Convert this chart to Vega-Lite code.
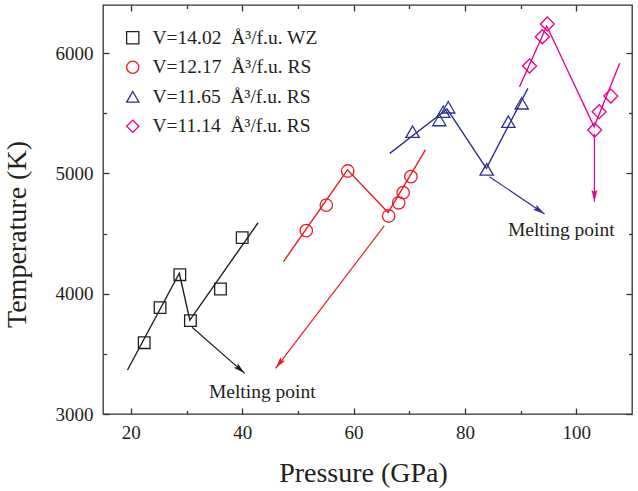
{
  "$schema": "https://vega.github.io/schema/vega-lite/v6.json",
  "width": 529,
  "height": 409,
  "autosize": {"type": "none"},
  "padding": {"left": 103, "top": 5, "right": 6, "bottom": 77},
  "background": "white",
  "datasets": {
    "pts": [
      {"P": 22.4, "T": 3593, "s": "V=14.02 Å³/f.u. WZ", "k": "WZ 14.02"},
      {"P": 25.25, "T": 3884, "s": "V=14.02 Å³/f.u. WZ", "k": "WZ 14.02"},
      {"P": 28.8, "T": 4158, "s": "V=14.02 Å³/f.u. WZ", "k": "WZ 14.02"},
      {"P": 30.7, "T": 3776, "s": "V=14.02 Å³/f.u. WZ", "k": "WZ 14.02"},
      {"P": 36.1, "T": 4039, "s": "V=14.02 Å³/f.u. WZ", "k": "WZ 14.02"},
      {"P": 40.0, "T": 4466, "s": "V=14.02 Å³/f.u. WZ", "k": "WZ 14.02"},
      {"P": 51.5, "T": 4524, "s": "V=12.17 Å³/f.u. RS", "k": "RS 12.17"},
      {"P": 55.1, "T": 4737, "s": "V=12.17 Å³/f.u. RS", "k": "RS 12.17"},
      {"P": 58.95, "T": 5020, "s": "V=12.17 Å³/f.u. RS", "k": "RS 12.17"},
      {"P": 66.3, "T": 4646, "s": "V=12.17 Å³/f.u. RS", "k": "RS 12.17"},
      {"P": 68.1, "T": 4756, "s": "V=12.17 Å³/f.u. RS", "k": "RS 12.17"},
      {"P": 68.9, "T": 4840, "s": "V=12.17 Å³/f.u. RS", "k": "RS 12.17"},
      {"P": 70.3, "T": 4973, "s": "V=12.17 Å³/f.u. RS", "k": "RS 12.17"},
      {"P": 70.6, "T": 5347, "s": "V=11.65 Å³/f.u. RS", "k": "RS 11.65"},
      {"P": 75.4, "T": 5444, "s": "V=11.65 Å³/f.u. RS", "k": "RS 11.65"},
      {"P": 76.1, "T": 5513, "s": "V=11.65 Å³/f.u. RS", "k": "RS 11.65"},
      {"P": 77.0, "T": 5550, "s": "V=11.65 Å³/f.u. RS", "k": "RS 11.65"},
      {"P": 83.9, "T": 5034, "s": "V=11.65 Å³/f.u. RS", "k": "RS 11.65"},
      {"P": 87.8, "T": 5430, "s": "V=11.65 Å³/f.u. RS", "k": "RS 11.65"},
      {"P": 90.2, "T": 5583, "s": "V=11.65 Å³/f.u. RS", "k": "RS 11.65"},
      {"P": 91.6, "T": 5893, "s": "V=11.14 Å³/f.u. RS", "k": "RS 11.14"},
      {"P": 93.9, "T": 6136, "s": "V=11.14 Å³/f.u. RS", "k": "RS 11.14"},
      {"P": 94.8, "T": 6242, "s": "V=11.14 Å³/f.u. RS", "k": "RS 11.14"},
      {"P": 103.3, "T": 5361, "s": "V=11.14 Å³/f.u. RS", "k": "RS 11.14"},
      {"P": 104.1, "T": 5513, "s": "V=11.14 Å³/f.u. RS", "k": "RS 11.14"},
      {"P": 106.2, "T": 5643, "s": "V=11.14 Å³/f.u. RS", "k": "RS 11.14"}
    ],
    "lines": [
      {"P": 19.4, "T": 3366, "k": "WZ 14.02", "o": 1},
      {"P": 28.7, "T": 4170, "k": "WZ 14.02", "o": 2},
      {"P": 30.6, "T": 3781, "k": "WZ 14.02", "o": 3},
      {"P": 42.85, "T": 4590, "k": "WZ 14.02", "o": 4},
      {"P": 47.4, "T": 4266, "k": "RS 12.17", "o": 1},
      {"P": 58.9, "T": 5030, "k": "RS 12.17", "o": 2},
      {"P": 66.2, "T": 4675, "k": "RS 12.17", "o": 3},
      {"P": 72.9, "T": 5195, "k": "RS 12.17", "o": 4},
      {"P": 66.5, "T": 5167, "k": "RS 11.65", "o": 1},
      {"P": 76.8, "T": 5535, "k": "RS 11.65", "o": 2},
      {"P": 83.85, "T": 5042, "k": "RS 11.65", "o": 3},
      {"P": 91.3, "T": 5707, "k": "RS 11.65", "o": 4},
      {"P": 89.8, "T": 5721, "k": "RS 11.14", "o": 1},
      {"P": 94.7, "T": 6225, "k": "RS 11.14", "o": 2},
      {"P": 103.2, "T": 5388, "k": "RS 11.14", "o": 3},
      {"P": 107.8, "T": 5915, "k": "RS 11.14", "o": 4}
    ],
    "arrows": [
      {"P": 31.0, "T": 3721, "P2": 40.45, "T2": 3338, "k": "WZ 14.02"},
      {"P": 65.5, "T": 4563, "P2": 46.0, "T2": 3380, "k": "RS 12.17"},
      {"P": 84.4, "T": 4972, "P2": 94.3, "T2": 4663, "k": "RS 11.65"},
      {"P": 103.25, "T": 5330, "P2": 103.25, "T2": 4765, "k": "RS 11.14"}
    ],
    "notes": [
      {"P": 43.6, "T": 3179, "label": "Melting point"},
      {"P": 97.3, "T": 4530, "label": "Melting point"}
    ]
  },
  "layer": [
    {
      "data": {"name": "lines"},
      "mark": {"type": "line", "strokeWidth": 1.4},
      "encoding": {
        "x": {"field": "P", "type": "quantitative", "scale": {"domain": [15, 110], "nice": false, "zero": false},
              "axis": {"orient": "bottom", "values": [30, 50, 70, 90], "offset": -3.5, "tickSize": 3.5, "labels": false, "title": null}},
        "y": {"field": "T", "type": "quantitative", "scale": {"domain": [3000, 6400], "nice": false, "zero": false},
              "axis": {"orient": "left", "values": [3500, 4500, 5500], "offset": -3.5, "tickSize": 3.5, "labels": false, "title": null}},
        "stroke": {"field": "k", "type": "nominal",
                   "scale": {"domain": ["WZ 14.02", "RS 12.17", "RS 11.65", "RS 11.14"],
                             "range": ["#231F20", "#ED1C24", "#2E3192", "#EC008C"]},
                   "legend": null},
        "order": {"field": "o", "type": "quantitative"}
      }
    },
    {
      "data": {"name": "arrows"},
      "mark": {"type": "rule", "strokeWidth": 1.2},
      "encoding": {
        "x": {"field": "P", "type": "quantitative",
              "axis": {"orient": "top", "values": [20, 40, 60, 80, 100], "offset": -6, "tickSize": 6, "labels": false, "title": null}},
        "y": {"field": "T", "type": "quantitative",
              "axis": {"orient": "right", "values": [3000, 4000, 5000, 6000], "offset": -6, "tickSize": 6, "labels": false, "title": null}},
        "x2": {"field": "P2"},
        "y2": {"field": "T2"},
        "stroke": {"field": "k", "type": "nominal", "legend": null}
      }
    },
    {
      "data": {"name": "notes"},
      "mark": {"type": "text", "font": "Liberation Serif", "fontSize": 19.5, "color": "#231F20", "align": "center", "baseline": "middle"},
      "encoding": {
        "x": {"field": "P", "type": "quantitative",
              "axis": {"orient": "top", "values": [30, 50, 70, 90], "offset": -3.5, "tickSize": 3.5, "labels": false, "title": null}},
        "y": {"field": "T", "type": "quantitative",
              "axis": {"orient": "right", "values": [3500, 4500, 5500], "offset": -3.5, "tickSize": 3.5, "labels": false, "title": null}},
        "text": {"field": "label"}
      }
    },
    {
      "data": {"name": "pts"},
      "mark": {"type": "point", "filled": false, "strokeWidth": 1.3, "opacity": 1},
      "encoding": {
        "x": {"field": "P", "type": "quantitative",
              "axis": {"orient": "bottom", "values": [20, 40, 60, 80, 100], "offset": -6, "tickSize": 6, "labelPadding": 9, "title": "Pressure (GPa)", "titleX": 260, "titleY": 51, "titleBaseline": "top"}},
        "y": {"field": "T", "type": "quantitative",
              "axis": {"orient": "left", "values": [3000, 4000, 5000, 6000], "format": "d", "offset": -6, "tickSize": 6, "labelPadding": 10, "title": "Temperature (K)", "titleX": -78, "titleY": 229, "titleAngle": -90, "titleBaseline": "bottom", "titleAlign": "center"}},
        "color": {"field": "s", "type": "nominal",
                  "scale": {"domain": ["V=14.02 Å³/f.u. WZ", "V=12.17 Å³/f.u. RS", "V=11.65 Å³/f.u. RS", "V=11.14 Å³/f.u. RS"],
                            "range": ["#231F20", "#ED1C24", "#2E3192", "#EC008C"]},
                  "legend": {"title": null, "orient": "none", "legendX": 20, "legendY": 23, "labelExpr": "replace(datum.label, ' Å', '\u2002Å')"}},
        "shape": {"field": "s", "type": "nominal",
                  "scale": {"domain": ["V=14.02 Å³/f.u. WZ", "V=12.17 Å³/f.u. RS", "V=11.65 Å³/f.u. RS", "V=11.14 Å³/f.u. RS"],
                            "range": ["square", "circle", "triangle-up", "diamond"]},
                  "legend": {"title": null, "orient": "none", "legendX": 20, "legendY": 23, "labelExpr": "replace(datum.label, ' Å', '\u2002Å')"}},
        "size": {"field": "k", "type": "nominal",
                 "scale": {"domain": ["WZ 14.02", "RS 12.17", "RS 11.65", "RS 11.14"], "range": [135, 196, 225, 256]},
                 "legend": null}
      }
    },
    {
      "data": {"name": "arrows"},
      "transform": [{"filter": "datum.k === 'WZ 14.02'"}],
      "mark": {"type": "point", "shape": "M0,0L-0.5,2L0,1.6L0.5,2Z", "filled": true, "size": 144, "angle": 131, "color": "#231F20", "opacity": 1},
      "encoding": {
        "x": {"field": "P2", "type": "quantitative", "axis": null},
        "y": {"field": "T2", "type": "quantitative", "axis": null}
      }
    },
    {
      "data": {"name": "arrows"},
      "transform": [{"filter": "datum.k === 'RS 12.17'"}],
      "mark": {"type": "point", "shape": "M0,0L-0.5,2L0,1.6L0.5,2Z", "filled": true, "size": 144, "angle": 217.5, "color": "#ED1C24", "opacity": 1},
      "encoding": {
        "x": {"field": "P2", "type": "quantitative", "axis": null},
        "y": {"field": "T2", "type": "quantitative", "axis": null}
      }
    },
    {
      "data": {"name": "arrows"},
      "transform": [{"filter": "datum.k === 'RS 11.65'"}],
      "mark": {"type": "point", "shape": "M0,0L-0.5,2L0,1.6L0.5,2Z", "filled": true, "size": 144, "angle": 124, "color": "#2E3192", "opacity": 1},
      "encoding": {
        "x": {"field": "P2", "type": "quantitative", "axis": null},
        "y": {"field": "T2", "type": "quantitative", "axis": null}
      }
    },
    {
      "data": {"name": "arrows"},
      "transform": [{"filter": "datum.k === 'RS 11.14'"}],
      "mark": {"type": "point", "shape": "M0,0L-0.5,2L0,1.6L0.5,2Z", "filled": true, "size": 144, "angle": 180, "color": "#EC008C", "opacity": 1},
      "encoding": {
        "x": {"field": "P2", "type": "quantitative", "axis": null},
        "y": {"field": "T2", "type": "quantitative", "axis": null}
      }
    }
  ],
  "resolve": {"axis": {"x": "independent", "y": "independent"}},
  "config": {
    "view": {"stroke": "#333333", "strokeWidth": 1.3},
    "axis": {
      "grid": false, "domain": false, "ticks": true,
      "tickColor": "#333333", "tickWidth": 1.3,
      "labelFont": "Liberation Serif", "labelFontSize": 19, "labelColor": "#231F20",
      "titleFont": "Liberation Serif", "titleFontSize": 28, "titleFontWeight": "normal", "titleColor": "#231F20"
    },
    "legend": {
      "labelFont": "Liberation Serif", "labelFontSize": 19.5, "labelColor": "#231F20", "labelLimit": 400,
      "symbolSize": 150, "symbolStrokeWidth": 1.3, "rowPadding": 8.5, "padding": 0, "labelOffset": 10
    }
  }
}
